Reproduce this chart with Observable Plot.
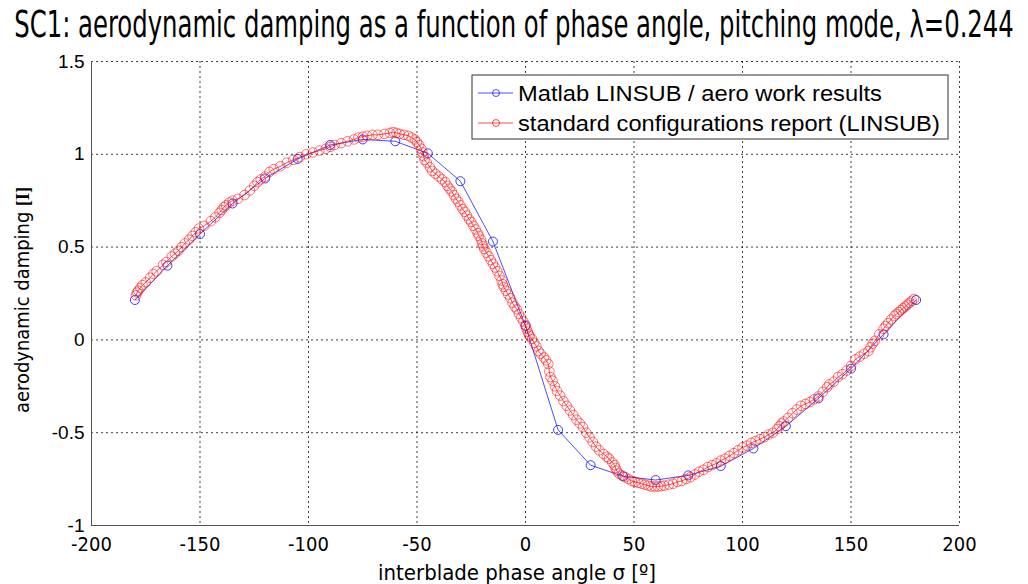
<!DOCTYPE html>
<html><head><meta charset="utf-8">
<script src="https://cdn.jsdelivr.net/npm/d3@7"></script>
<script src="https://cdn.jsdelivr.net/npm/@observablehq/plot@0.6"></script>
<style>body{margin:0;background:#fff} #chart{width:1028px;height:584px}</style>
</head><body><div id="chart"></div>
<script>
// ---------- data ----------
const titleText = "SC1: aerodynamic damping as a function of phase angle, pitching mode, λ=0.244";
const xLabel = "interblade phase angle σ [º]";
const yLabel = "aerodynamic damping ";
const yUnit = "[I]";
const seriesNames = ["Matlab LINSUB / aero work results", "standard configurations report (LINSUB)"];
const xTicks = [-200, -150, -100, -50, 0, 50, 100, 150, 200];
const yTicks = [-1, -0.5, 0, 0.5, 1, 1.5];

const blueX = [-180,-165,-150,-135,-120,-105,-90,-75,-60,-45,-30,-15,0,15,30,45,60,75,90,105,120,135,150,165,180];
const blueY = [0.215,0.40,0.57,0.735,0.87,0.975,1.05,1.08,1.07,1.005,0.855,0.53,0.075,-0.485,-0.675,-0.735,-0.755,-0.73,-0.68,-0.585,-0.465,-0.315,-0.155,0.03,0.215];

const redX = [-179.5,-179,-178.5,-177.5,-176.5,-175,-173,-171.5,-170,-167,-165.5,-163,-161.5,-160,-158.5,-157,-155,-153.5,-152,-150.5,
-148,-145,-143,-141,-140,-139,-138,-136.5,-135,-132.5,-129.5,-127,-125,-123.5,-122,-120,-118,-116,-113,-110,
-107,-104,-101,-98,-95,-92,-90,-88,-85,-82,-79,-77,-75,-73,-70.5,-68,-65,-62.5,-61,-59.5,
-58,-56,-54,-52.5,-51,-50,-49,-48,-47.5,-47,-46.5,-45.5,-44,-43,-41.5,-40,-38.5,-37,-36,-35,
-34,-33,-32,-31,-30,-29,-28,-27,-26,-25,-24,-23,-22,-21.5,-20.5,-20,-19.5,-19,-18,-17,
-16,-15,-14,-13,-12,-11,-10.5,-10,-9,-8,-7,-6,-5,-4,-3,-2,-1,0,0.5,1,
1.5,2,3,4,5,6,7,8.5,9.5,10.5,11,11.5,12.5,13.5,14.5,16,17.5,19,20.5,22,
23.5,25,26.5,28,29.5,31,32.5,34,36,37.5,38.5,40,41,41.5,42,43,44.5,46,47.5,49,
50.5,52,53.5,55,56.5,58,59.5,61,62.5,64,66,68,70,72,74,76,78,80,82,84,
86,88,90,92,94,96,98,100,102,104,106,108,110,112,114,116,117,118,119,121,
123,125,127,129,131,133,135,137,139,140,142,144,146,148,150,152,154,156,158,159,
160,161,163,165,166,167,168.5,170,171,172,173,174,175,176,177,178,179];
const redY = [0.24,0.255,0.265,0.28,0.295,0.31,0.335,0.355,0.37,0.405,0.42,0.45,0.465,0.48,0.5,0.52,0.54,0.56,0.58,0.6,
0.615,0.64,0.66,0.685,0.70,0.715,0.725,0.74,0.75,0.76,0.78,0.805,0.83,0.85,0.865,0.88,0.905,0.92,0.935,0.955,
0.97,0.985,1.0,1.01,1.02,1.03,1.04,1.05,1.06,1.07,1.08,1.09,1.095,1.1,1.105,1.105,1.11,1.115,1.12,1.115,
1.11,1.105,1.1,1.09,1.08,1.065,1.05,1.03,1.01,0.99,0.97,0.955,0.93,0.91,0.895,0.88,0.865,0.85,0.83,0.815,
0.8,0.78,0.76,0.745,0.725,0.705,0.69,0.67,0.65,0.635,0.615,0.595,0.575,0.56,0.54,0.52,0.505,0.49,0.47,0.45,
0.43,0.41,0.39,0.37,0.345,0.32,0.3,0.285,0.265,0.245,0.225,0.2,0.18,0.165,0.14,0.12,0.1,0.08,0.06,0.045,
0.03,0.02,0.005,-0.015,-0.035,-0.06,-0.075,-0.095,-0.11,-0.13,-0.17,-0.2,-0.22,-0.25,-0.275,-0.3,-0.33,-0.355,-0.38,-0.405,
-0.43,-0.45,-0.47,-0.5,-0.525,-0.55,-0.575,-0.595,-0.615,-0.63,-0.64,-0.66,-0.675,-0.69,-0.705,-0.72,-0.73,-0.74,-0.75,-0.76,
-0.765,-0.77,-0.775,-0.78,-0.785,-0.79,-0.79,-0.79,-0.788,-0.785,-0.78,-0.775,-0.765,-0.76,-0.75,-0.74,-0.725,-0.71,-0.7,-0.685,
-0.675,-0.665,-0.65,-0.64,-0.625,-0.61,-0.595,-0.58,-0.57,-0.555,-0.545,-0.535,-0.525,-0.51,-0.5,-0.48,-0.465,-0.45,-0.44,-0.42,
-0.395,-0.375,-0.355,-0.345,-0.335,-0.32,-0.305,-0.28,-0.255,-0.24,-0.225,-0.2,-0.185,-0.165,-0.14,-0.105,-0.09,-0.075,-0.06,-0.04,
-0.02,-0.005,0.03,0.06,0.075,0.09,0.11,0.13,0.14,0.15,0.16,0.17,0.18,0.19,0.2,0.21,0.22];

// ---------- build ----------
const blue = blueX.map((x, i) => ({x, y: blueY[i]}));
const red = redX.map((x, i) => ({x, y: redY[i]}));

const narrow = "'DejaVu Sans Condensed', sans-serif";
const arial = "'Liberation Sans', Arial, sans-serif";

const svg = Plot.plot({
  width: 1028, height: 584,
  marginLeft: 91, marginRight: 69, marginTop: 61, marginBottom: 59,
  style: {background: "#fff", overflow: "visible"},
  x: {domain: [-200, 200]},
  y: {domain: [-1, 1.5]},
  marks: [
    Plot.gridX(xTicks, {stroke: "#000", strokeOpacity: 0.75, strokeDasharray: "2,3", strokeWidth: 1}),
    Plot.gridY(yTicks, {stroke: "#000", strokeOpacity: 0.75, strokeDasharray: "2,3", strokeWidth: 1}),
    Plot.ruleX([-200], {stroke: "#555"}),
    Plot.ruleY([-1], {stroke: "#555"}),
    Plot.axisX(xTicks, {tickSize: 0, tickPadding: 11, fontSize: 20, fontFamily: narrow, fill: "#000",
      tickFormat: d => String(d), label: null}),
    Plot.axisY(yTicks, {tickSize: 0, tickPadding: 7, fontSize: 19, fontFamily: arial, fill: "#000",
      tickFormat: d => String(d), label: null}),
    Plot.line(blue, {x: "x", y: "y", stroke: "#0000ff", strokeOpacity: 0.7, strokeWidth: 1}),
    Plot.dot(blue, {x: "x", y: "y", r: 4.5, stroke: "#0000ff", strokeOpacity: 0.75, fill: "none", strokeWidth: 1}),
    Plot.line(red, {x: "x", y: "y", stroke: "#ff0000", strokeOpacity: 0.7, strokeWidth: 1}),
    Plot.dot(red, {x: "x", y: "y", r: 4.8, stroke: "#ff0000", strokeOpacity: 0.55, fill: "none", strokeWidth: 1})
  ]
});

document.getElementById("chart").appendChild(svg);
const s = d3.select(svg);

// squeeze a text horizontally to a target width
function fit(sel, cx, cy, width, rotate) {
  const n = sel.node();
  const w = n.getComputedTextLength();
  const k = width / w;
  sel.attr("transform", `translate(${cx},${cy})` + (rotate ? " rotate(-90)" : "") + ` scale(${k},1)`);
}

// title
const t = s.append("text").attr("text-anchor", "middle")
  .attr("font-family", "'DejaVu Sans Condensed', sans-serif").attr("font-size", 38).attr("fill", "#000")
  .text(titleText);
fit(t, 514, 37, 1000, false);

// x label
const xl = s.append("text").attr("text-anchor", "middle")
  .attr("font-family", narrow).attr("font-size", 22).attr("fill", "#000")
  .text(xLabel);
fit(xl, 517, 580, 278, false);

// y label
const yl = s.append("text").attr("text-anchor", "middle")
  .attr("font-family", narrow).attr("font-size", 20).attr("fill", "#000");
yl.append("tspan").text(yLabel);
yl.append("tspan").attr("font-family", "'Liberation Serif', serif").attr("font-size", 18).attr("font-weight", "bold").text(yUnit);
fit(yl, 29, 300, 226, true);

// legend
const lg = s.append("g").attr("text-anchor", "start");
lg.append("rect").attr("x", 472).attr("y", 75).attr("width", 476).attr("height", 64)
  .attr("fill", "#fff").attr("stroke", "#333").attr("stroke-width", 1);
const colors = ["#0000ff", "#ff0000"];
const rowsY = [93, 123];
const rowWidths = [364, 422];
seriesNames.forEach((name, i) => {
  lg.append("line").attr("x1", 478).attr("x2", 513).attr("y1", rowsY[i]).attr("y2", rowsY[i])
    .attr("stroke", colors[i]).attr("stroke-opacity", 0.7);
  lg.append("circle").attr("cx", 496).attr("cy", rowsY[i]).attr("r", 3.5)
    .attr("fill", "none").attr("stroke", colors[i]).attr("stroke-opacity", 0.7);
  const tx = lg.append("text").attr("dy", "0.36em").attr("text-anchor", "start")
    .attr("font-family", arial).attr("font-size", 22).attr("fill", "#000").text(name);
  const w = tx.node().getComputedTextLength();
  tx.attr("transform", `translate(518,${rowsY[i]}) scale(${rowWidths[i] / w},1)`);
});
</script>
</body></html>
